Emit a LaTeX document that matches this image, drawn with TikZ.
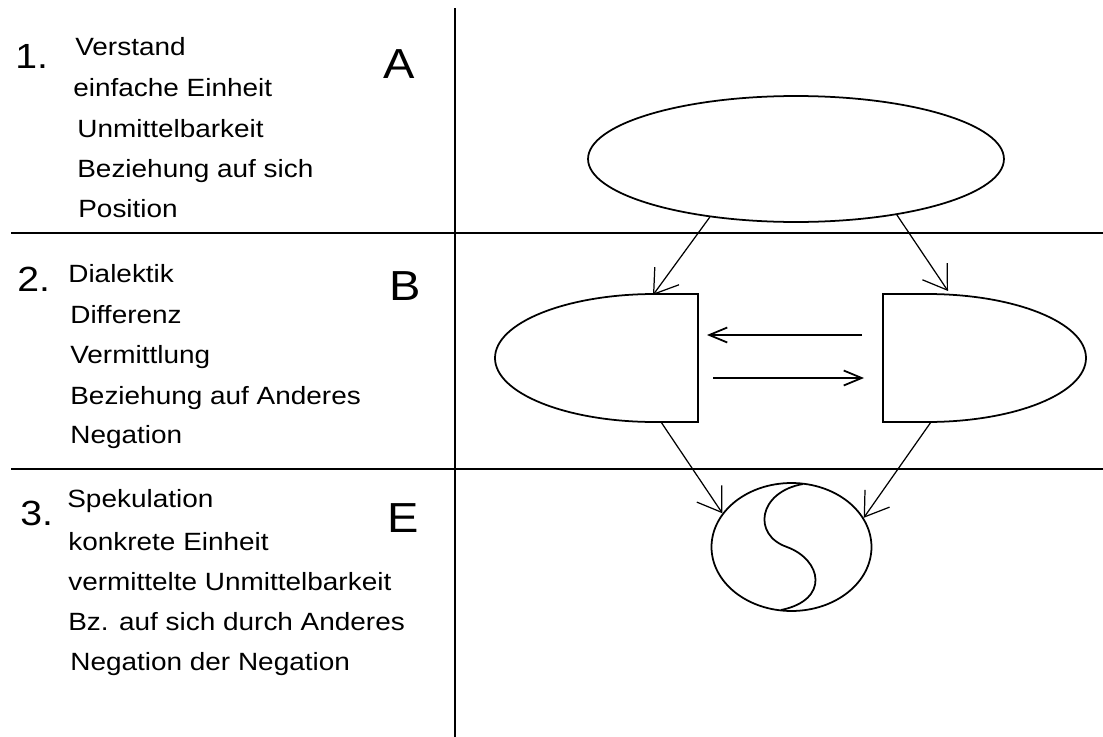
\documentclass[tikz,border=0pt]{standalone}
\usepackage{fontspec}
\setmainfont{Liberation Sans}[FakeStretch=1.12]
\usetikzlibrary{shapes.geometric}
\usetikzlibrary{arrows.meta}
\tikzset{
	zeile/.style={anchor=base west, inner sep=0pt, font=\fontsize{14.2}{17}\selectfont},
	nummer/.style={anchor=base west, inner sep=0pt, font=\fontsize{19.9}{24}\selectfont},
	buchstabe/.style={anchor=base west, inner sep=0pt, font=\fontsize{23.9}{28}\selectfont},
	trenner/.style={line width=1.2pt},
	form/.style={line width=1pt},
	pfeil/.style={line width=0.7pt, -{Straight Barb[length=0.45cm, width=0.6cm]}},
	pfeilh/.style={line width=1pt, -{Straight Barb[length=0.36cm, width=0.3cm]}}
}

\begin{document}
\begin{tikzpicture}[x=0.02cm, y=-0.02cm]
\useasboundingbox (0,0) rectangle (1103,737);

% Trennlinien
\draw[trenner] (455,8) -- (455,737);
\draw[trenner] (11,233) -- (1103,233);
\draw[trenner] (11,469) -- (1103,469);

% 1. Verstand
\node[nummer] (nr1) at (15,69) {1.};
\node[zeile] (t11) at (75,55) {Verstand};
\node[zeile] (t12) at (73,96) {einfache Einheit};
\node[zeile] (t13) at (77,137) {Unmittelbarkeit};
\node[zeile] (t14) at (77,177) {Beziehung auf sich};
\node[zeile] (t15) at (78,217) {Position};
\node[buchstabe] (bA) at (383,78) {A};

% 2. Dialektik
\node[nummer] (nr2) at (17,291) {2.};
\node[zeile] (t21) at (68,282) {Dialektik};
\node[zeile] (t22) at (70,323) {Differenz};
\node[zeile] (t23) at (70,363) {Vermittlung};
\node[zeile] (t24) at (70,404) {Beziehung auf Anderes};
\node[zeile] (t25) at (70,443) {Negation};
\node[buchstabe] (bB) at (389,300) {B};

% 3. Spekulation
\node[nummer] (nr3) at (20,525) {3.};
\node[zeile] (t31) at (67,507) {Spekulation};
\node[zeile] (t32) at (68,550) {konkrete Einheit};
\node[zeile] (t33) at (68,590) {vermittelte Unmittelbarkeit};
\node[zeile] (t34) at (68,630) {Bz. auf sich durch Anderes};
\node[zeile] (t35) at (70,670) {Negation der Negation};
\node[buchstabe] (bE) at (387,532) {E};

% oben: einfache Einheit
\node[form, draw, ellipse, minimum width=8.32cm, minimum height=2.52cm, inner sep=0pt] (einheit) at (796,159) {};

% Mitte: zwei halbe Ellipsen
\draw[form] (698,294) -- (655,294) arc[start angle=270, end angle=90, x radius=160, y radius=64] -- (698,422) -- cycle;
\draw[form] (883,294) -- (927,294) arc[start angle=-90, end angle=90, x radius=159, y radius=64] -- (883,422) -- cycle;
\coordinate (lo) at (653,295);
\coordinate (ro) at (948,291);
\coordinate (lu) at (661,422);
\coordinate (ru) at (931,422);
\coordinate (h1) at (862,335);
\coordinate (h2) at (707,335);
\coordinate (h3) at (713,378);
\coordinate (h4) at (864,378);

% unten: konkrete Einheit
\node[form, draw, ellipse, minimum width=3.2cm, minimum height=2.56cm, inner sep=0pt] (kreis) at (791.5,547) {};
\draw[form] (803,484) .. controls (758,492) and (752,535) .. (787,547)
	.. controls (822,560) and (830,600) .. (781,610);

% Pfeile
\draw[pfeil] (einheit.214) -- (lo);
\draw[pfeil] (einheit.331) -- (ro);
\draw[pfeilh] (h1) -- (h2);
\draw[pfeilh] (h3) -- (h4);
\draw[pfeil] (lu) -- (kreis.154);
\draw[pfeil] (ru) -- (kreis.22);
\end{tikzpicture}
\end{document}
